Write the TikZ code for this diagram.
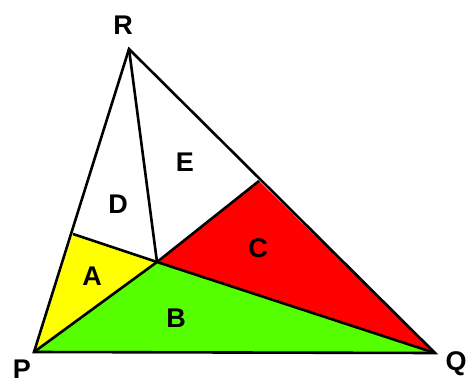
\documentclass[tikz,border=0pt]{standalone}
\usepackage{fontspec}
\setmainfont{Liberation Sans}
\definecolor{fyel}{RGB}{255,255,0}
\definecolor{fgrn}{RGB}{85,255,0}
\definecolor{fred}{RGB}{255,0,0}
\begin{document}
\begin{tikzpicture}[x=1pt,y=-1pt,
  edge/.style={line width=2.6pt,line join=miter},
  lbl/.style={font=\fontsize{27}{27}\selectfont\bfseries,inner sep=0pt}]
\useasboundingbox (0,0) rectangle (473,385);
\coordinate (P) at (34,352);
\coordinate (Q) at (435,353);
\coordinate (R) at (129,49);
\coordinate (I) at (157,262);
\coordinate (X) at (73,234);
\coordinate (Y) at (259,181);
\fill[fyel] (P) -- (X) -- (I) -- cycle;
\fill[fgrn] (P) -- (I) -- (Q) -- cycle;
\fill[fred] (I) -- (Y) -- (Q) -- cycle;
\draw[edge] (X) -- (I);
\draw[edge] (R) -- (I);
\draw[edge] (P) -- (I);
\draw[edge] (I) -- (Q);
\draw[edge] (I) -- (Y);
\draw[edge] (P) -- (Q) -- (R) -- cycle;
\node[lbl] (lR) at (123,25) {R};
\node[lbl] (lP) at (22,369) {P};
\node[lbl] (lQ) at (456,364) {Q};
\node[lbl] (lA) at (92,276) {A};
\node[lbl] (lB) at (176,318) {B};
\node[lbl] (lC) at (258,248) {C};
\node[lbl] (lD) at (118,204) {D};
\node[lbl] (lE) at (185,162) {E};
\end{tikzpicture}
\end{document}
